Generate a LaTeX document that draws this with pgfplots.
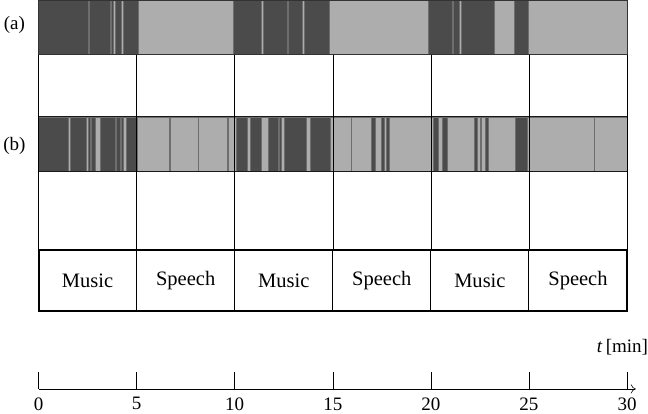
\documentclass[border=0pt]{standalone}
\usepackage{pgfplots}
\pgfplotsset{compat=1.18}
\usepackage{fontspec}
\setmainfont{Liberation Serif}
\usetikzlibrary{arrows.meta}
\definecolor{darkseg}{HTML}{4B4B4B}
\definecolor{lightseg}{HTML}{ADADAD}
\definecolor{segline}{HTML}{6E6E6E}
% rectangle: x1 x2 y1 y2 style
\newcommand\rect[5]{\addplot[#5] coordinates {(#1,#3) (#2,#3) (#2,#4) (#1,#4)} --cycle;}
\newcommand\vl[4]{\addplot[#4] coordinates {(#1,#2) (#1,#3)};}
\begin{document}
\begin{tikzpicture}
\begin{axis}[
  scale only axis, width=594.8bp, height=392bp,
  xmin=0, xmax=30.45, ymin=-392, ymax=0,
  axis x line=bottom, axis y line=none,
  x axis line style={-{To[length=5bp,width=9bp]}, line width=0.6pt},
  xtick={0,5,10,15,20,25,30}, tick align=inside, major tick length=17bp,
  every tick/.style={black, line width=0.5pt},
  tick label style={font=\fontsize{19}{22}\selectfont},
  xticklabel style={yshift=-5bp},
  /pgf/number format/assume math mode=true,
  clip=false,
  lseg/.style={fill=lightseg, draw=segline, line width=0.4pt},
  dseg/.style={fill=darkseg, draw=segline, line width=0.4pt},
  dline/.style={segline, line width=1.1pt},
]
% ---------------- row (a) ----------------
\rect{0}{30}{-5}{-59}{dseg}
\rect{2.52}{2.60}{-5}{-59}{lseg}
\rect{3.63}{3.71}{-5}{-59}{lseg}
\rect{3.82}{3.90}{-5}{-59}{lseg}
\rect{4.23}{4.31}{-5}{-59}{lseg}
\rect{5.08}{9.90}{-5}{-59}{lseg}
\rect{11.36}{11.44}{-5}{-59}{lseg}
\rect{12.67}{12.75}{-5}{-59}{lseg}
\rect{13.44}{13.52}{-5}{-59}{lseg}
\rect{14.81}{19.86}{-5}{-59}{lseg}
\rect{21.07}{21.15}{-5}{-59}{lseg}
\rect{21.46}{21.54}{-5}{-59}{lseg}
\rect{23.21}{24.23}{-5}{-59}{lseg}
\rect{24.95}{30}{-5}{-59}{lseg}
\addplot[draw=black!80, line width=0.6pt] coordinates {(0,-5) (30,-5) (30,-59) (0,-59)} --cycle;
% ---------------- row (b) ----------------
\rect{0}{30}{-121}{-175}{dseg}
\rect{1.50}{1.59}{-121}{-175}{lseg}
\rect{2.42}{2.51}{-121}{-175}{lseg}
\rect{2.62}{2.68}{-121}{-175}{lseg}
\rect{2.90}{3.12}{-121}{-175}{lseg}
\rect{3.89}{3.98}{-121}{-175}{lseg}
\rect{4.15}{4.21}{-121}{-175}{lseg}
\rect{4.32}{4.49}{-121}{-175}{lseg}
\rect{5.05}{9.60}{-121}{-175}{lseg}
\rect{9.66}{10.07}{-121}{-175}{lseg}
\rect{10.62}{10.79}{-121}{-175}{lseg}
\rect{11.35}{11.69}{-121}{-175}{lseg}
\rect{12.20}{12.29}{-121}{-175}{lseg}
\rect{12.38}{12.54}{-121}{-175}{lseg}
\rect{13.66}{13.86}{-121}{-175}{lseg}
\rect{14.85}{30}{-121}{-175}{lseg}
\rect{16.95}{17.15}{-121}{-175}{dseg}
\rect{17.46}{17.60}{-121}{-175}{dseg}
\rect{17.70}{17.87}{-121}{-175}{dseg}
\rect{20.14}{20.39}{-121}{-175}{dseg}
\rect{20.57}{20.82}{-121}{-175}{dseg}
\rect{22.19}{22.36}{-121}{-175}{dseg}
\rect{22.50}{22.58}{-121}{-175}{dseg}
\rect{22.78}{22.90}{-121}{-175}{dseg}
\rect{24.28}{24.92}{-121}{-175}{dseg}
\vl{6.70}{-121}{-175}{dline}
\vl{8.14}{-121}{-175}{dline}
\vl{15.96}{-121}{-175}{dline}
\vl{28.33}{-121}{-175}{dline}
\addplot[draw=black!90, line width=1pt] coordinates {(0,-121) (30,-121) (30,-175) (0,-175)} --cycle;
% ---------------- vertical guide lines ----------------
\vl{0}{-59}{-254}{black, line width=0.5pt}
\vl{5}{-59}{-254}{black, line width=0.5pt}
\vl{10}{-59}{-254}{black, line width=0.5pt}
\vl{15}{-59}{-254}{black, line width=0.5pt}
\vl{20}{-59}{-254}{black, line width=0.5pt}
\vl{25}{-59}{-254}{black, line width=0.5pt}
\vl{30}{-59}{-254}{black, line width=0.5pt}
% ---------------- class boxes ----------------
\vl{5}{-254}{-314}{black, line width=1pt}
\vl{10}{-254}{-314}{black, line width=1pt}
\vl{15}{-254}{-314}{black, line width=1pt}
\vl{20}{-254}{-314}{black, line width=1pt}
\vl{25}{-254}{-314}{black, line width=1pt}
\addplot[draw=black, line width=2pt] coordinates {(0,-254) (30,-254) (30,-314) (0,-314)} --cycle;
\node[font=\fontsize{20.5}{24}\selectfont] at (axis cs:2.5,-284) {Music};
\node[font=\fontsize{20.5}{24}\selectfont] at (axis cs:7.5,-284) {Speech};
\node[font=\fontsize{20.5}{24}\selectfont] at (axis cs:12.5,-284) {Music};
\node[font=\fontsize{20.5}{24}\selectfont] at (axis cs:17.5,-284) {Speech};
\node[font=\fontsize{20.5}{24}\selectfont] at (axis cs:22.5,-284) {Music};
\node[font=\fontsize{20.5}{24}\selectfont] at (axis cs:27.5,-284) {Speech};
% ---------------- labels ----------------
\node[font=\fontsize{19}{22}\selectfont] at (axis cs:-1.23,-30) {(a)};
\node[font=\fontsize{19}{22}\selectfont] at (axis cs:-1.23,-150) {(b)};
\node[font=\fontsize{19}{22}\selectfont, anchor=east, inner sep=0pt] at (axis cs:31.08,-350) {\textit{t}\,[min]};
\end{axis}
\end{tikzpicture}
\end{document}
